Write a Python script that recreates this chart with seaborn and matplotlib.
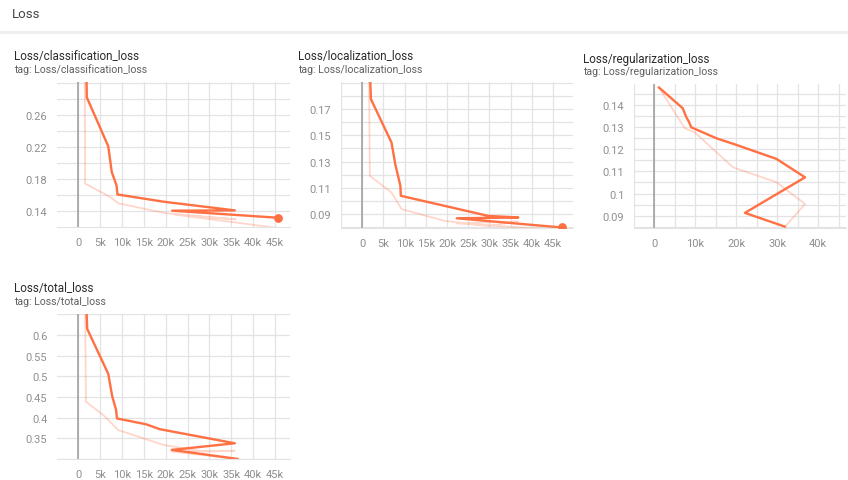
import numpy as np
import pandas as pd
import matplotlib.pyplot as plt
import matplotlib.ticker as mticker
from matplotlib.lines import Line2D
import seaborn as sns

sns.set_style("white")
plt.rcParams['font.family'] = ['Roboto', 'DejaVu Sans']

# --- data (steps, values) ---
cls_steps = [1700, 2000, 6900, 7700, 8800, 9000, 19500, 35800, 21500, 45700]
cls_smooth = [0.40, 0.282, 0.221, 0.189, 0.172, 0.161, 0.152, 0.1412, 0.1408, 0.132]
cls_raw_steps = [1500, 1600, 7300, 9200, 20000, 36000, 22000, 46000]
cls_raw = [0.40, 0.1746, 0.158, 0.150, 0.1377, 0.130, 0.136, 0.119]

loc_steps = [1800, 2050, 6900, 7800, 9000, 9100, 19500, 29700, 36800, 22300, 47000]
loc_smooth = [0.20, 0.1776, 0.1446, 0.128, 0.1116, 0.104, 0.0963, 0.0887, 0.0875, 0.0869, 0.0799]
loc_raw_steps = [1600, 1800, 6900, 9300, 19500, 29700, 36800, 22300, 47000]
loc_raw = [0.20, 0.1192, 0.1065, 0.0938, 0.0849, 0.0811, 0.0845, 0.083, 0.078]

reg_steps = [1050, 6900, 7800, 8400, 9000, 15100, 20000, 29800, 36800, 22100, 31900]
reg_smooth = [0.1478, 0.1384, 0.1343, 0.1324, 0.1298, 0.1249, 0.1219, 0.1156, 0.1073, 0.0913, 0.0851]
reg_raw_steps = [1050, 7400, 9800, 19200, 29800, 36800, 31900]
reg_raw = [0.1478, 0.1294, 0.1276, 0.1118, 0.1051, 0.0953, 0.0851]

tot_steps = [1800, 2100, 6900, 7800, 8700, 8900, 15500, 18700, 35800, 21400, 36500]
tot_smooth = [0.70, 0.6144, 0.506, 0.452, 0.418, 0.398, 0.384, 0.372, 0.338, 0.322, 0.300]
tot_raw_steps = [1600, 1800, 5800, 9200, 19500, 28600, 35800, 21400, 36500]
tot_raw = [0.70, 0.4385, 0.406, 0.370, 0.334, 0.318, 0.320, 0.318, 0.300]

ORANGE = '#ff7043'
GRID = '#e3e3e3'
W, H = 848, 481

fig = plt.figure(figsize=(W / 100, H / 100), dpi=100)


def px_rect(l, r, t, b):
    return [l / W, 1 - b / H, (r - l) / W, (b - t) / H]


def kfmt(v, pos):
    if abs(v) < 1:
        return '0'
    return f'{int(round(v / 1000))}k'


def panel(rect, title, steps, smooth, rsteps, raw, xlim, ylim, xmaj, xmin, ymaj, ymin, dot=False):
    ax = fig.add_axes(px_rect(*rect))
    df_raw = pd.DataFrame({'step': rsteps, 'value': raw})
    df_s = pd.DataFrame({'step': steps, 'value': smooth})
    sns.lineplot(data=df_raw, x='step', y='value', sort=False, estimator=None,
                 color=ORANGE, alpha=0.28, lw=1.3, ax=ax)
    sns.lineplot(data=df_s, x='step', y='value', sort=False, estimator=None,
                 color=ORANGE, lw=1.7, ax=ax)
    if dot:
        ax.scatter([steps[-1]], [smooth[-1]], s=28, color=ORANGE, zorder=5, clip_on=True)
    ax.axvline(0, color='#9a9a9a', lw=1.1, zorder=1)
    ax.set_xlim(*xlim)
    ax.set_ylim(*ylim)
    ax.xaxis.set_major_locator(mticker.FixedLocator(xmaj))
    ax.xaxis.set_minor_locator(mticker.FixedLocator(xmin))
    ax.yaxis.set_major_locator(mticker.FixedLocator(ymaj))
    ax.yaxis.set_minor_locator(mticker.FixedLocator(ymin))
    ax.xaxis.set_major_formatter(mticker.FuncFormatter(kfmt))
    ax.yaxis.set_major_formatter(mticker.FuncFormatter(lambda v, p: f'{v:g}'))
    ax.grid(True, which='both', color=GRID, lw=0.9)
    ax.set_axisbelow(True)
    ax.tick_params(which='both', length=4, color=GRID, width=0.9,
                   labelsize=8.0, labelcolor='#8f8f8f', pad=3)
    for s in ['top', 'right', 'left']:
        ax.spines[s].set_visible(False)
    ax.spines['bottom'].set_color(GRID)
    ax.set_xlabel('')
    ax.set_ylabel('')
    tx = rect[0] - 43 if rect[0] < 600 else rect[0] - 51
    ty = rect[2] - 26
    fig.text(tx / W, 1 - ty / H, title, fontsize=8.4, color='#2a2a2a', va='center', ha='left')
    fig.text(tx / W, 1 - (ty + 13) / H, 'tag: ' + title, fontsize=7.6, color='#5f5f5f',
             va='center', ha='left')
    return ax


k5 = list(range(0, 45001, 5000))
k5m = list(range(-5000, 50001, 5000))

panel((57, 290, 83, 228), 'Loss/classification_loss', cls_steps, cls_smooth, cls_raw_steps, cls_raw,
      (-4800, 48400), (0.1205, 0.301), k5, k5m,
      [0.14, 0.18, 0.22, 0.26], list(np.arange(0.12, 0.301, 0.02)), dot=True)

panel((341, 573, 83, 229), 'Loss/localization_loss', loc_steps, loc_smooth, loc_raw_steps, loc_raw,
      (-5000, 49700), (0.0795, 0.1906), k5, k5m,
      [0.09, 0.11, 0.13, 0.15, 0.17], list(np.arange(0.08, 0.191, 0.01)), dot=True)

panel((634, 846, 85, 229), 'Loss/regularization_loss', reg_steps, reg_smooth, reg_raw_steps, reg_raw,
      (-5000, 46800), (0.0845, 0.1493), [0, 10000, 20000, 30000, 40000], k5m,
      [0.09, 0.10, 0.11, 0.12, 0.13, 0.14], list(np.arange(0.085, 0.1451, 0.005)))

panel((57, 290, 315, 460), 'Loss/total_loss', tot_steps, tot_smooth, tot_raw_steps, tot_raw,
      (-4800, 48400), (0.300, 0.6505), k5, k5m,
      [0.35, 0.4, 0.45, 0.5, 0.55, 0.6], list(np.arange(0.30, 0.651, 0.05)))

fig.text(12 / W, 1 - 15 / H, 'Loss', fontsize=9.5, color='#444444', va='center', ha='left')
fig.add_artist(Line2D([0, 1], [1 - 33 / H] * 2, color='#eeeeee', lw=2))

fig.savefig('out.png', dpi=100, facecolor='white')
